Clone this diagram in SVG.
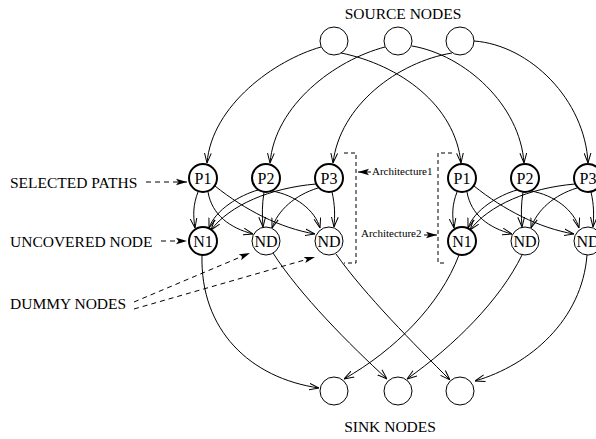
<svg xmlns="http://www.w3.org/2000/svg" width="596" height="439" viewBox="0 0 596 439">
  <defs>
    <marker id="open" viewBox="0 0 10 8" refX="10" refY="4" markerWidth="10" markerHeight="8" markerUnits="userSpaceOnUse" orient="auto">
      <path d="M0,0.6 L10,4 L0,7.4" fill="none" stroke="#000" stroke-width="1"/>
    </marker>
    <marker id="solid" viewBox="0 0 11 8" refX="11" refY="4" markerWidth="11" markerHeight="8" markerUnits="userSpaceOnUse" orient="auto">
      <path d="M0,0.8 L11,4 L0,7.2 L2.5,4 Z" fill="#000"/>
    </marker>
    <style>
      .lbl { font-family: "Liberation Serif", "Times New Roman", serif; font-size: 15.5px; fill: #000; }
      .small { font-family: "Liberation Serif", "Times New Roman", serif; font-size: 11px; fill: #000; }
      .nt { font-family: "Liberation Serif", "Times New Roman", serif; font-size: 16px; fill: #000; text-anchor: middle; dominant-baseline: central; }
      .thick { fill: #fff; stroke: #000; stroke-width: 2; }
      .thin { fill: #fff; stroke: #000; stroke-width: 1; }
      .edge { fill: none; stroke: #000; stroke-width: 1; marker-end: url(#open); }
      .dash { fill: none; stroke: #000; stroke-width: 1; stroke-dasharray: 5 4; marker-end: url(#solid); }
      .bracket { fill: none; stroke: #000; stroke-width: 1; stroke-dasharray: 4 3; }
    </style>
  </defs>

  <rect width="596" height="439" fill="#fff"/>

  <!-- headings and side labels -->
  <text class="lbl" x="403" y="19" text-anchor="middle">SOURCE NODES</text>
  <text class="lbl" x="390" y="432" text-anchor="middle">SINK NODES</text>
  <text class="lbl" x="10" y="188">SELECTED PATHS</text>
  <text class="lbl" x="10" y="247">UNCOVERED NODE</text>
  <text class="lbl" x="10" y="309">DUMMY NODES</text>
  <text class="small" x="372" y="175">Architecture1</text>
  <text class="small" x="361" y="237">Architecture2</text>

  <!-- connectors -->
  <g id="connectors">
    <!-- sources to selected paths -->
    <path class="edge" d="M321,47 C275,60 212,105 207,163"/>
    <path class="edge" d="M341,53 C400,65 455,105 461,163"/>
    <path class="edge" d="M385,47 C335,60 275,105 270,163"/>
    <path class="edge" d="M412,46 C465,55 520,105 524,163"/>
    <path class="edge" d="M452,53 C398,62 340,105 333,163"/>
    <path class="edge" d="M474,41 C530,45 585,100 588,163"/>

    <!-- architecture 1: paths to nodes -->
    <g id="arch1-edges">
      <path class="edge" d="M198,192 C193,205 193,215 195,228"/>
      <path class="edge" d="M208,192 C212,215 230,228 253,234"/>
      <path class="edge" d="M215,186 C245,210 280,228 315,234"/>
      <path class="edge" d="M258,190 C240,195 215,210 209,228"/>
      <path class="edge" d="M264,192 C262,205 262,215 263,227"/>
      <path class="edge" d="M272,191 C295,195 315,210 320,228"/>
      <path class="edge" d="M316,184 C270,188 230,205 211,230"/>
      <path class="edge" d="M318,188 C295,195 278,210 272,228"/>
      <path class="edge" d="M332,192 C335,205 335,215 334,227"/>
    </g>

    <!-- architecture 2: same wiring shifted right -->
    <g id="arch2-edges" transform="translate(259,0)">
      <path class="edge" d="M198,192 C193,205 193,215 195,228"/>
      <path class="edge" d="M208,192 C212,215 230,228 253,234"/>
      <path class="edge" d="M215,186 C245,210 280,228 315,234"/>
      <path class="edge" d="M258,190 C240,195 215,210 209,228"/>
      <path class="edge" d="M264,192 C262,205 262,215 263,227"/>
      <path class="edge" d="M272,191 C295,195 315,210 320,228"/>
      <path class="edge" d="M316,184 C270,188 230,205 211,230"/>
      <path class="edge" d="M318,188 C295,195 278,210 272,228"/>
      <path class="edge" d="M332,192 C335,205 335,215 334,227"/>
    </g>

    <!-- nodes to sinks -->
    <path class="edge" d="M202,255 C200,330 250,378 319,388"/>
    <path class="edge" d="M273,253 C300,295 350,345 387,379"/>
    <path class="edge" d="M336,254 C365,295 415,345 450,380"/>
    <path class="edge" d="M459,255 C440,305 395,350 344,379"/>
    <path class="edge" d="M522,255 C500,300 455,345 407,379"/>
    <path class="edge" d="M587,255 C582,320 530,365 475,381"/>

    <!-- dashed label pointers -->
    <path class="dash" d="M146,182 L187,182"/>
    <path class="dash" d="M161,241 L187,241"/>
    <path class="dash" d="M134,302 L250,253"/>
    <path class="dash" d="M134,309 L315,257"/>

    <!-- architecture brackets and their pointers -->
    <path class="bracket" d="M344,153 L356,153 L356,263 L344,263"/>
    <path class="bracket" d="M452,153 L438,153 L438,263 L446,263"/>
    <path d="M371,172 L358,172" stroke="#000" stroke-width="1" marker-end="url(#solid)"/>
    <path d="M424,235 L437,235" stroke="#000" stroke-width="1" marker-end="url(#solid)"/>
  </g>

  <!-- source nodes -->
  <g id="src1"><circle class="thin" cx="334" cy="41" r="14"/></g>
  <g id="src2"><circle class="thin" cx="398" cy="41" r="14"/></g>
  <g id="src3"><circle class="thin" cx="460" cy="41" r="14"/></g>

  <!-- architecture 1 nodes -->
  <g id="a1-p1"><circle class="thick" cx="203" cy="178" r="14"/><text class="nt" x="203" y="178">P1</text></g>
  <g id="a1-p2"><circle class="thick" cx="266" cy="178" r="14"/><text class="nt" x="266" y="178">P2</text></g>
  <g id="a1-p3"><circle class="thick" cx="329" cy="178" r="14"/><text class="nt" x="329" y="178">P3</text></g>
  <g id="a1-n1"><circle class="thick" cx="203" cy="241" r="14"/><text class="nt" x="203" y="241">N1</text></g>
  <g id="a1-nd1"><circle class="thin" cx="266" cy="241" r="14"/><text class="nt" x="266" y="241">ND</text></g>
  <g id="a1-nd2"><circle class="thin" cx="329" cy="241" r="14"/><text class="nt" x="329" y="241">ND</text></g>

  <!-- architecture 2 nodes (the last column runs past the right edge) -->
  <g id="a2-p1"><circle class="thick" cx="462" cy="178" r="14"/><text class="nt" x="462" y="178">P1</text></g>
  <g id="a2-p2"><circle class="thick" cx="525" cy="178" r="14"/><text class="nt" x="525" y="178">P2</text></g>
  <g id="a2-p3"><circle class="thick" cx="588" cy="178" r="14"/><text class="nt" x="588" y="178">P3</text></g>
  <g id="a2-n1"><circle class="thick" cx="462" cy="241" r="14"/><text class="nt" x="462" y="241">N1</text></g>
  <g id="a2-nd1"><circle class="thin" cx="525" cy="241" r="14"/><text class="nt" x="525" y="241">ND</text></g>
  <g id="a2-nd2"><circle class="thin" cx="588" cy="241" r="14"/><text class="nt" x="588" y="241">ND</text></g>

  <!-- sink nodes -->
  <g id="sink1"><circle class="thin" cx="334" cy="391" r="14"/></g>
  <g id="sink2"><circle class="thin" cx="398" cy="391" r="14"/></g>
  <g id="sink3"><circle class="thin" cx="460" cy="391" r="14"/></g>
</svg>
